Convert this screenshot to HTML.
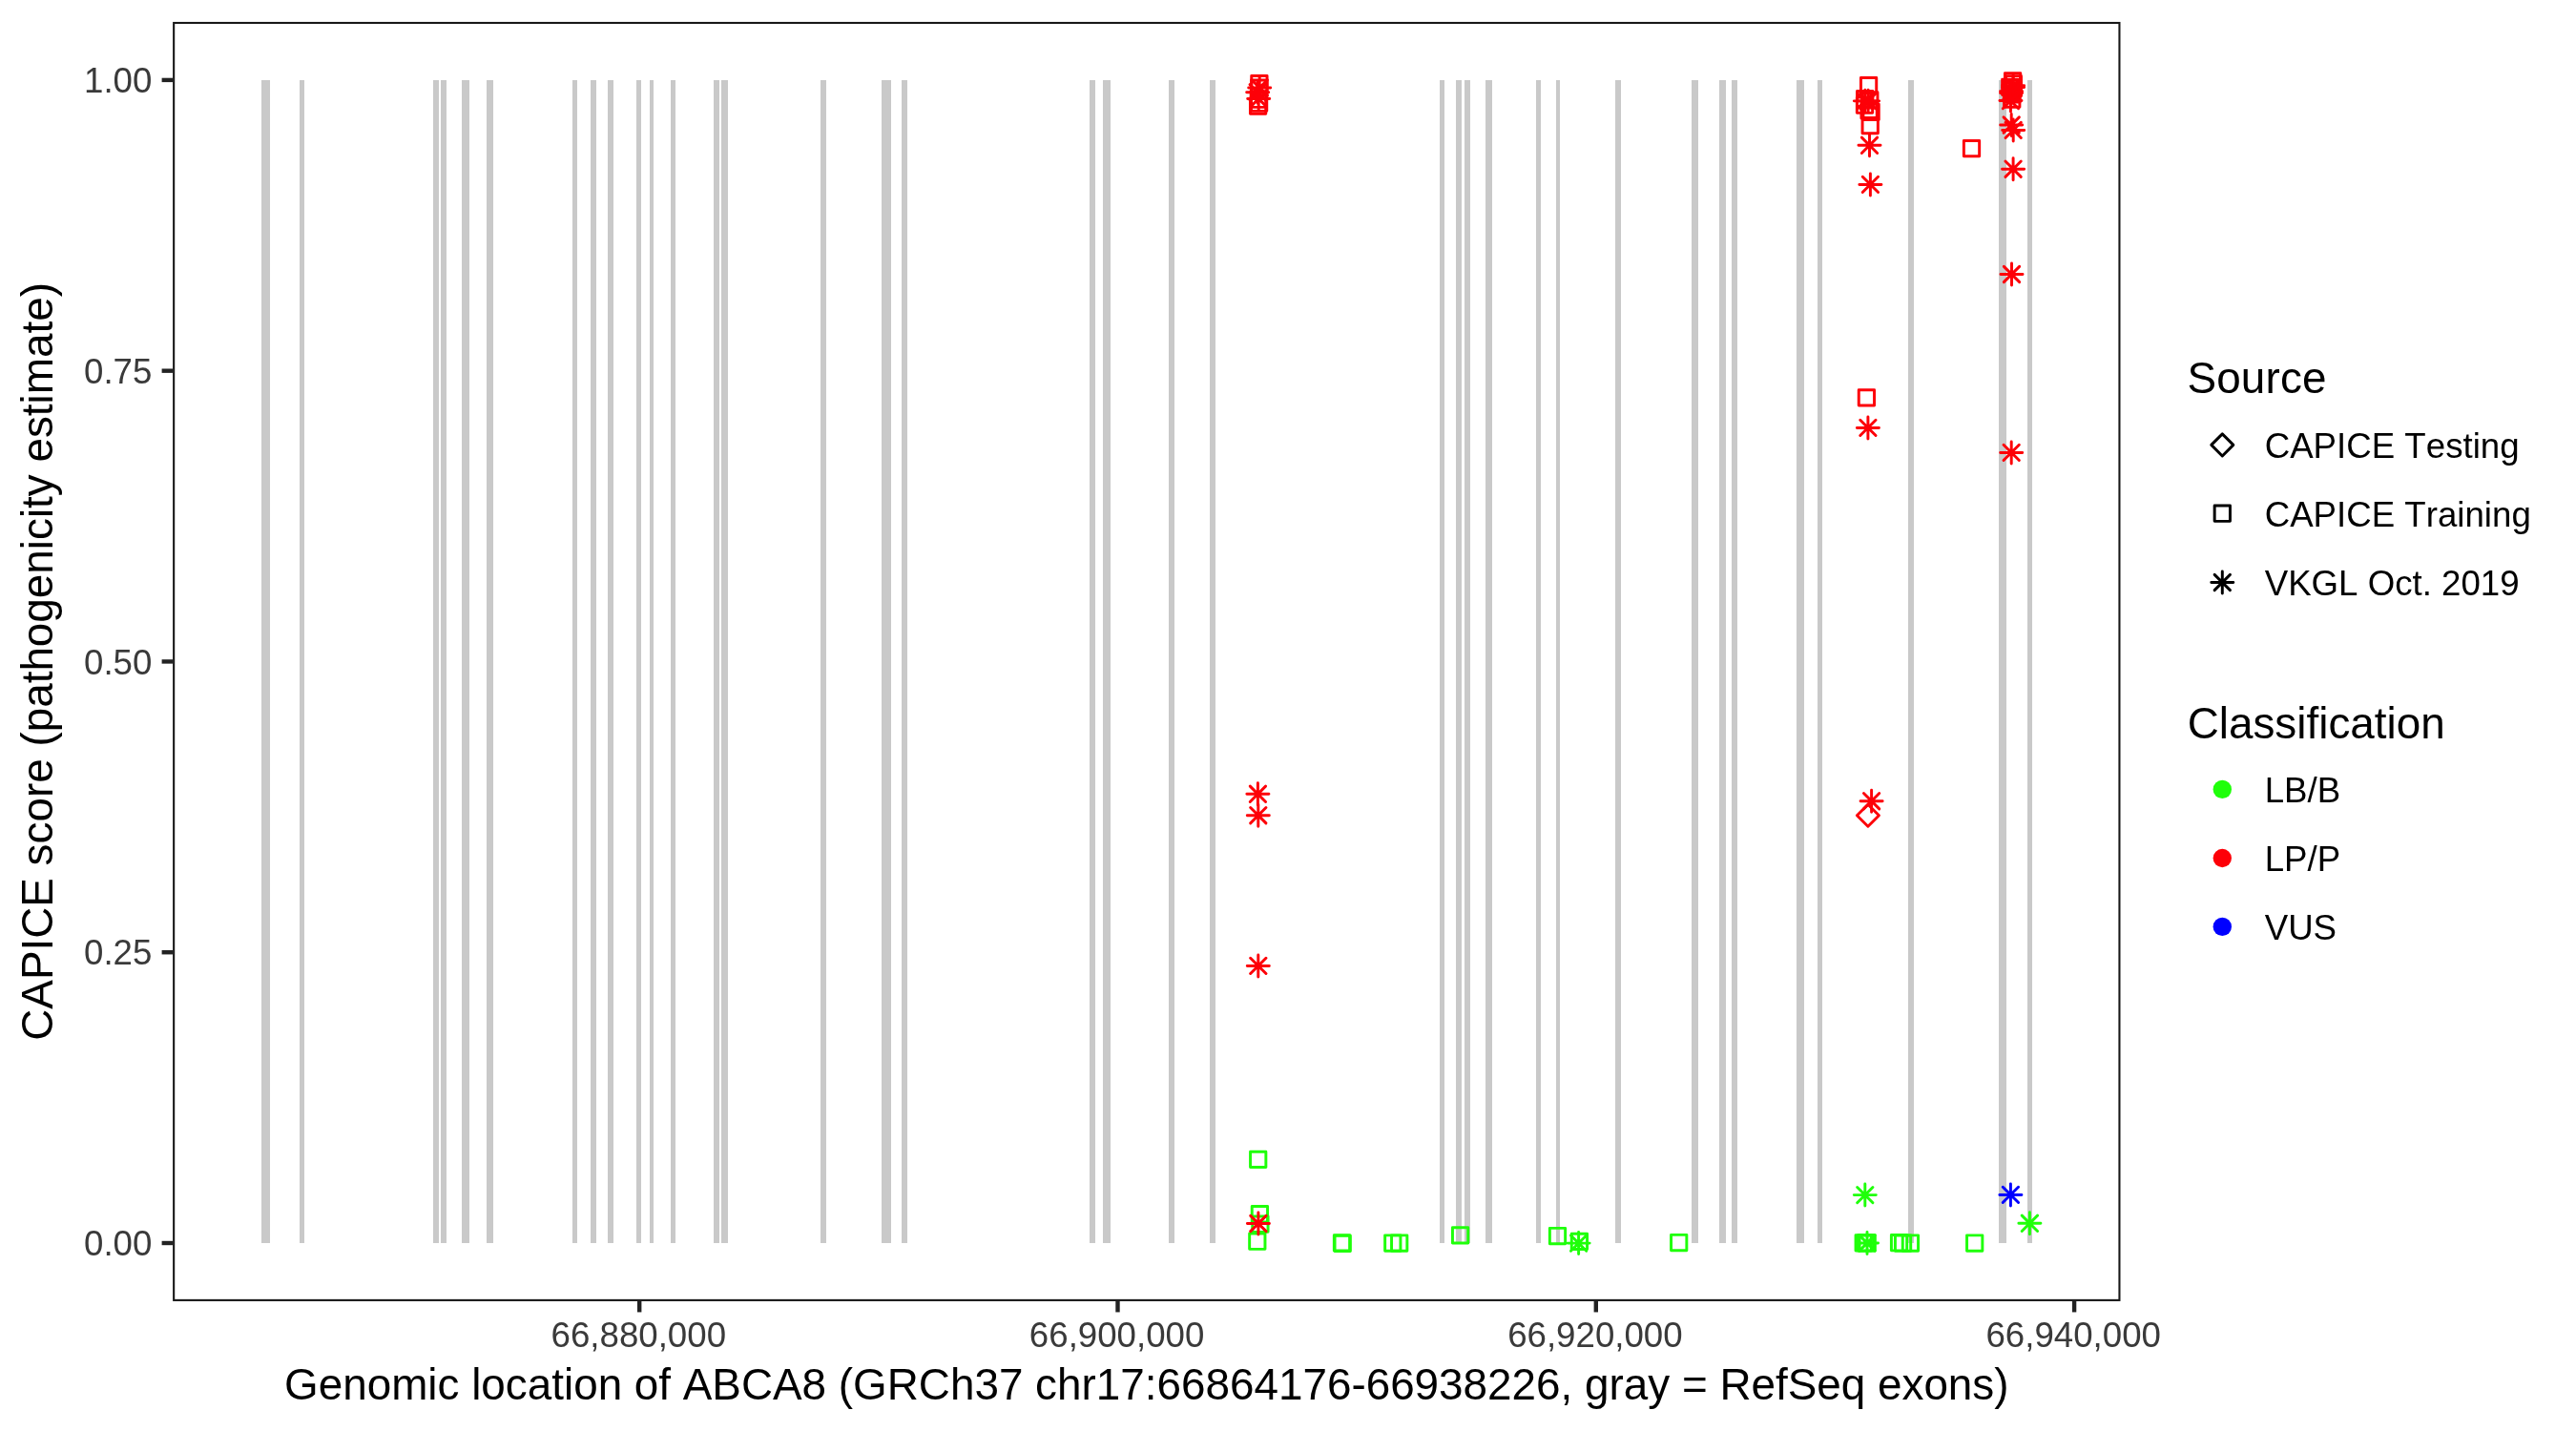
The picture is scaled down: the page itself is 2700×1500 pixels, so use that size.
<!DOCTYPE html>
<html><head><meta charset="utf-8"><title>CAPICE ABCA8</title>
<style>html,body{margin:0;padding:0;background:#fff;}svg{display:block;will-change:transform;}text{font-family:"Liberation Sans",sans-serif;font-kerning:none;font-variant-ligatures:none;}</style></head><body>
<svg width="2700" height="1500" viewBox="0 0 2700 1500">
<rect width="2700" height="1500" fill="#fff"/>
<g fill="#C9C9C9" shape-rendering="crispEdges">
<rect x="274" y="84" width="9" height="1219"/>
<rect x="314" y="84" width="5" height="1219"/>
<rect x="454" y="84" width="6" height="1219"/>
<rect x="462" y="84" width="6" height="1219"/>
<rect x="484" y="84" width="8" height="1219"/>
<rect x="510" y="84" width="7" height="1219"/>
<rect x="600" y="84" width="5" height="1219"/>
<rect x="619" y="84" width="6" height="1219"/>
<rect x="637" y="84" width="6" height="1219"/>
<rect x="667" y="84" width="5" height="1219"/>
<rect x="681" y="84" width="4" height="1219"/>
<rect x="703" y="84" width="5" height="1219"/>
<rect x="748" y="84" width="6" height="1219"/>
<rect x="756" y="84" width="7" height="1219"/>
<rect x="860" y="84" width="6" height="1219"/>
<rect x="924" y="84" width="10" height="1219"/>
<rect x="945" y="84" width="6" height="1219"/>
<rect x="1142" y="84" width="6" height="1219"/>
<rect x="1156" y="84" width="8" height="1219"/>
<rect x="1225" y="84" width="6" height="1219"/>
<rect x="1268" y="84" width="6" height="1219"/>
<rect x="1509" y="84" width="5" height="1219"/>
<rect x="1526" y="84" width="6" height="1219"/>
<rect x="1535" y="84" width="6" height="1219"/>
<rect x="1557" y="84" width="7" height="1219"/>
<rect x="1610" y="84" width="5" height="1219"/>
<rect x="1631" y="84" width="4" height="1219"/>
<rect x="1693" y="84" width="6" height="1219"/>
<rect x="1773" y="84" width="7" height="1219"/>
<rect x="1802" y="84" width="7" height="1219"/>
<rect x="1815" y="84" width="6" height="1219"/>
<rect x="1883" y="84" width="8" height="1219"/>
<rect x="1905" y="84" width="5" height="1219"/>
<rect x="2000" y="84" width="6" height="1219"/>
<rect x="2095" y="84" width="8" height="1219"/>
<rect x="2125" y="84" width="5" height="1219"/>
</g>
<g>
<rect x="1311.75" y="79.55" width="16.30" height="16.30" stroke="#FD0008" stroke-width="2.95" fill="none" stroke-linecap="round" stroke-linejoin="round"/>
<rect x="1311.75" y="84.05" width="16.30" height="16.30" stroke="#FD0008" stroke-width="2.95" fill="none" stroke-linecap="round" stroke-linejoin="round"/>
<rect x="1311.15" y="96.05" width="16.30" height="16.30" stroke="#FD0008" stroke-width="2.95" fill="none" stroke-linecap="round" stroke-linejoin="round"/>
<rect x="1311.45" y="100.05" width="16.30" height="16.30" stroke="#FD0008" stroke-width="2.95" fill="none" stroke-linecap="round" stroke-linejoin="round"/>
<rect x="1310.45" y="102.95" width="16.30" height="16.30" stroke="#FD0008" stroke-width="2.95" fill="none" stroke-linecap="round" stroke-linejoin="round"/>
<path d="M1308.68 92.00H1331.72M1320.20 80.48V103.52M1312.05 83.85L1328.35 100.15M1312.05 100.15L1328.35 83.85" stroke="#FD0008" stroke-width="2.95" fill="none" stroke-linecap="round" stroke-linejoin="round"/>
<path d="M1306.68 96.80H1329.72M1318.20 85.28V108.32M1310.05 88.65L1326.35 104.95M1310.05 104.95L1326.35 88.65" stroke="#FD0008" stroke-width="2.95" fill="none" stroke-linecap="round" stroke-linejoin="round"/>
<path d="M1307.68 103.50H1330.72M1319.20 91.98V115.02M1311.05 95.35L1327.35 111.65M1311.05 111.65L1327.35 95.35" stroke="#FD0008" stroke-width="2.95" fill="none" stroke-linecap="round" stroke-linejoin="round"/>
<path d="M1306.88 832.30H1329.92M1318.40 820.78V843.82M1310.25 824.15L1326.55 840.45M1310.25 840.45L1326.55 824.15" stroke="#FD0008" stroke-width="2.95" fill="none" stroke-linecap="round" stroke-linejoin="round"/>
<path d="M1307.28 854.70H1330.32M1318.80 843.18V866.22M1310.65 846.55L1326.95 862.85M1310.65 862.85L1326.95 846.55" stroke="#FD0008" stroke-width="2.95" fill="none" stroke-linecap="round" stroke-linejoin="round"/>
<path d="M1307.28 1012.40H1330.32M1318.80 1000.88V1023.92M1310.65 1004.25L1326.95 1020.55M1310.65 1020.55L1326.95 1004.25" stroke="#FD0008" stroke-width="2.95" fill="none" stroke-linecap="round" stroke-linejoin="round"/>
<rect x="1310.55" y="1207.15" width="16.30" height="16.30" stroke="#1FFF0A" stroke-width="2.95" fill="none" stroke-linecap="round" stroke-linejoin="round"/>
<rect x="1312.25" y="1264.55" width="16.30" height="16.30" stroke="#1FFF0A" stroke-width="2.95" fill="none" stroke-linecap="round" stroke-linejoin="round"/>
<rect x="1312.75" y="1275.05" width="16.30" height="16.30" stroke="#1FFF0A" stroke-width="2.95" fill="none" stroke-linecap="round" stroke-linejoin="round"/>
<rect x="1309.65" y="1293.05" width="16.30" height="16.30" stroke="#1FFF0A" stroke-width="2.95" fill="none" stroke-linecap="round" stroke-linejoin="round"/>
<path d="M1307.38 1282.50H1330.42M1318.90 1270.98V1294.02M1310.75 1274.35L1327.05 1290.65M1310.75 1290.65L1327.05 1274.35" stroke="#FD0008" stroke-width="2.95" fill="none" stroke-linecap="round" stroke-linejoin="round"/>
<rect x="1398.35" y="1294.65" width="16.30" height="16.30" stroke="#1FFF0A" stroke-width="2.95" fill="none" stroke-linecap="round" stroke-linejoin="round"/>
<rect x="1399.05" y="1295.15" width="16.30" height="16.30" stroke="#1FFF0A" stroke-width="2.95" fill="none" stroke-linecap="round" stroke-linejoin="round"/>
<rect x="1451.65" y="1294.85" width="16.30" height="16.30" stroke="#1FFF0A" stroke-width="2.95" fill="none" stroke-linecap="round" stroke-linejoin="round"/>
<rect x="1458.55" y="1294.85" width="16.30" height="16.30" stroke="#1FFF0A" stroke-width="2.95" fill="none" stroke-linecap="round" stroke-linejoin="round"/>
<rect x="1522.45" y="1286.65" width="16.30" height="16.30" stroke="#1FFF0A" stroke-width="2.95" fill="none" stroke-linecap="round" stroke-linejoin="round"/>
<rect x="1624.35" y="1287.35" width="16.30" height="16.30" stroke="#1FFF0A" stroke-width="2.95" fill="none" stroke-linecap="round" stroke-linejoin="round"/>
<rect x="1647.25" y="1293.25" width="16.30" height="16.30" stroke="#1FFF0A" stroke-width="2.95" fill="none" stroke-linecap="round" stroke-linejoin="round"/>
<path d="M1643.08 1303.10H1666.12M1654.60 1291.58V1314.62M1646.45 1294.95L1662.75 1311.25M1646.45 1311.25L1662.75 1294.95" stroke="#1FFF0A" stroke-width="2.95" fill="none" stroke-linecap="round" stroke-linejoin="round"/>
<rect x="1751.55" y="1294.35" width="16.30" height="16.30" stroke="#1FFF0A" stroke-width="2.95" fill="none" stroke-linecap="round" stroke-linejoin="round"/>
<path d="M1943.28 1252.60H1966.32M1954.80 1241.08V1264.12M1946.65 1244.45L1962.95 1260.75M1946.65 1260.75L1962.95 1244.45" stroke="#1FFF0A" stroke-width="2.95" fill="none" stroke-linecap="round" stroke-linejoin="round"/>
<rect x="1945.05" y="1294.80" width="16.30" height="16.30" stroke="#1FFF0A" stroke-width="2.95" fill="none" stroke-linecap="round" stroke-linejoin="round"/>
<rect x="1947.45" y="1294.80" width="16.30" height="16.30" stroke="#1FFF0A" stroke-width="2.95" fill="none" stroke-linecap="round" stroke-linejoin="round"/>
<rect x="1949.05" y="1294.80" width="16.30" height="16.30" stroke="#1FFF0A" stroke-width="2.95" fill="none" stroke-linecap="round" stroke-linejoin="round"/>
<path d="M1945.48 1303.00H1968.52M1957.00 1291.48V1314.52M1948.85 1294.85L1965.15 1311.15M1948.85 1311.15L1965.15 1294.85" stroke="#1FFF0A" stroke-width="2.95" fill="none" stroke-linecap="round" stroke-linejoin="round"/>
<rect x="1982.40" y="1294.55" width="16.30" height="16.30" stroke="#1FFF0A" stroke-width="2.95" fill="none" stroke-linecap="round" stroke-linejoin="round"/>
<rect x="1986.41" y="1295.05" width="16.30" height="16.30" stroke="#1FFF0A" stroke-width="2.95" fill="none" stroke-linecap="round" stroke-linejoin="round"/>
<rect x="1994.25" y="1294.85" width="16.30" height="16.30" stroke="#1FFF0A" stroke-width="2.95" fill="none" stroke-linecap="round" stroke-linejoin="round"/>
<rect x="2061.55" y="1294.85" width="16.30" height="16.30" stroke="#1FFF0A" stroke-width="2.95" fill="none" stroke-linecap="round" stroke-linejoin="round"/>
<path d="M2095.88 1252.40H2118.92M2107.40 1240.88V1263.92M2099.25 1244.25L2115.55 1260.55M2099.25 1260.55L2115.55 1244.25" stroke="#0000FF" stroke-width="2.95" fill="none" stroke-linecap="round" stroke-linejoin="round"/>
<path d="M2115.88 1282.30H2138.92M2127.40 1270.78V1293.82M2119.25 1274.15L2135.55 1290.45M2119.25 1290.45L2135.55 1274.15" stroke="#1FFF0A" stroke-width="2.95" fill="none" stroke-linecap="round" stroke-linejoin="round"/>
<rect x="1950.45" y="81.40" width="16.30" height="16.30" stroke="#FD0008" stroke-width="2.95" fill="none" stroke-linecap="round" stroke-linejoin="round"/>
<rect x="1946.55" y="95.45" width="16.30" height="16.30" stroke="#FD0008" stroke-width="2.95" fill="none" stroke-linecap="round" stroke-linejoin="round"/>
<rect x="1946.35" y="102.05" width="16.30" height="16.30" stroke="#FD0008" stroke-width="2.95" fill="none" stroke-linecap="round" stroke-linejoin="round"/>
<rect x="1951.65" y="96.65" width="16.30" height="16.30" stroke="#FD0008" stroke-width="2.95" fill="none" stroke-linecap="round" stroke-linejoin="round"/>
<rect x="1950.95" y="107.75" width="16.30" height="16.30" stroke="#FD0008" stroke-width="2.95" fill="none" stroke-linecap="round" stroke-linejoin="round"/>
<rect x="1952.95" y="109.25" width="16.30" height="16.30" stroke="#FD0008" stroke-width="2.95" fill="none" stroke-linecap="round" stroke-linejoin="round"/>
<path d="M1943.33 105.85H1966.37M1954.85 94.33V117.37M1946.70 97.70L1963.00 114.00M1946.70 114.00L1963.00 97.70" stroke="#FD0008" stroke-width="2.95" fill="none" stroke-linecap="round" stroke-linejoin="round"/>
<path d="M1946.58 105.85H1969.62M1958.10 94.33V117.37M1949.95 97.70L1966.25 114.00M1949.95 114.00L1966.25 97.70" stroke="#FD0008" stroke-width="2.95" fill="none" stroke-linecap="round" stroke-linejoin="round"/>
<rect x="1952.05" y="123.45" width="16.30" height="16.30" stroke="#FD0008" stroke-width="2.95" fill="none" stroke-linecap="round" stroke-linejoin="round"/>
<path d="M1947.98 152.30H1971.02M1959.50 140.78V163.82M1951.35 144.15L1967.65 160.45M1951.35 160.45L1967.65 144.15" stroke="#FD0008" stroke-width="2.95" fill="none" stroke-linecap="round" stroke-linejoin="round"/>
<path d="M1948.88 193.40H1971.92M1960.40 181.88V204.92M1952.25 185.25L1968.55 201.55M1952.25 201.55L1968.55 185.25" stroke="#FD0008" stroke-width="2.95" fill="none" stroke-linecap="round" stroke-linejoin="round"/>
<rect x="1948.25" y="408.65" width="16.30" height="16.30" stroke="#FD0008" stroke-width="2.95" fill="none" stroke-linecap="round" stroke-linejoin="round"/>
<path d="M1946.38 448.40H1969.42M1957.90 436.88V459.92M1949.75 440.25L1966.05 456.55M1949.75 456.55L1966.05 440.25" stroke="#FD0008" stroke-width="2.95" fill="none" stroke-linecap="round" stroke-linejoin="round"/>
<path d="M1950.08 839.70H1973.12M1961.60 828.18V851.22M1953.45 831.55L1969.75 847.85M1953.45 847.85L1969.75 831.55" stroke="#FD0008" stroke-width="2.95" fill="none" stroke-linecap="round" stroke-linejoin="round"/>
<path d="M1946.38 854.70L1957.90 866.22L1969.42 854.70L1957.90 843.18Z" stroke="#FD0008" stroke-width="2.95" fill="none" stroke-linecap="round" stroke-linejoin="round"/>
<rect x="2058.35" y="147.45" width="16.30" height="16.30" stroke="#FD0008" stroke-width="2.95" fill="none" stroke-linecap="round" stroke-linejoin="round"/>
<rect x="2101.45" y="76.70" width="16.30" height="16.30" stroke="#FD0008" stroke-width="2.95" fill="none" stroke-linecap="round" stroke-linejoin="round"/>
<rect x="2102.15" y="79.60" width="16.30" height="16.30" stroke="#FD0008" stroke-width="2.95" fill="none" stroke-linecap="round" stroke-linejoin="round"/>
<rect x="2098.65" y="83.30" width="16.30" height="16.30" stroke="#FD0008" stroke-width="2.95" fill="none" stroke-linecap="round" stroke-linejoin="round"/>
<rect x="2102.15" y="84.35" width="16.30" height="16.30" stroke="#FD0008" stroke-width="2.95" fill="none" stroke-linecap="round" stroke-linejoin="round"/>
<rect x="2100.60" y="95.95" width="16.30" height="16.30" stroke="#FD0008" stroke-width="2.95" fill="none" stroke-linecap="round" stroke-linejoin="round"/>
<rect x="2100.35" y="87.35" width="16.30" height="16.30" stroke="#FD0008" stroke-width="2.95" fill="none" stroke-linecap="round" stroke-linejoin="round"/>
<rect x="2100.85" y="90.65" width="16.30" height="16.30" stroke="#FD0008" stroke-width="2.95" fill="none" stroke-linecap="round" stroke-linejoin="round"/>
<path d="M2098.58 89.70H2121.62M2110.10 78.18V101.22M2101.95 81.55L2118.25 97.85M2101.95 97.85L2118.25 81.55" stroke="#FD0008" stroke-width="2.95" fill="none" stroke-linecap="round" stroke-linejoin="round"/>
<path d="M2098.58 91.40H2121.62M2110.10 79.88V102.92M2101.95 83.25L2118.25 99.55M2101.95 99.55L2118.25 83.25" stroke="#FD0008" stroke-width="2.95" fill="none" stroke-linecap="round" stroke-linejoin="round"/>
<path d="M2096.58 95.60H2119.62M2108.10 84.08V107.12M2099.95 87.45L2116.25 103.75M2099.95 103.75L2116.25 87.45" stroke="#FD0008" stroke-width="2.95" fill="none" stroke-linecap="round" stroke-linejoin="round"/>
<path d="M2096.58 97.50H2119.62M2108.10 85.98V109.02M2099.95 89.35L2116.25 105.65M2099.95 105.65L2116.25 89.35" stroke="#FD0008" stroke-width="2.95" fill="none" stroke-linecap="round" stroke-linejoin="round"/>
<path d="M2095.93 105.55H2118.97M2107.45 94.03V117.07M2099.30 97.40L2115.60 113.70M2099.30 113.70L2115.60 97.40" stroke="#FD0008" stroke-width="2.95" fill="none" stroke-linecap="round" stroke-linejoin="round"/>
<path d="M2096.68 131.00H2119.72M2108.20 119.48V142.52M2100.05 122.85L2116.35 139.15M2100.05 139.15L2116.35 122.85" stroke="#FD0008" stroke-width="2.95" fill="none" stroke-linecap="round" stroke-linejoin="round"/>
<path d="M2098.68 136.40H2121.72M2110.20 124.88V147.92M2102.05 128.25L2118.35 144.55M2102.05 144.55L2118.35 128.25" stroke="#FD0008" stroke-width="2.95" fill="none" stroke-linecap="round" stroke-linejoin="round"/>
<path d="M2098.58 177.20H2121.62M2110.10 165.68V188.72M2101.95 169.05L2118.25 185.35M2101.95 185.35L2118.25 169.05" stroke="#FD0008" stroke-width="2.95" fill="none" stroke-linecap="round" stroke-linejoin="round"/>
<path d="M2096.98 287.50H2120.02M2108.50 275.98V299.02M2100.35 279.35L2116.65 295.65M2100.35 295.65L2116.65 279.35" stroke="#FD0008" stroke-width="2.95" fill="none" stroke-linecap="round" stroke-linejoin="round"/>
<path d="M2096.68 474.40H2119.72M2108.20 462.88V485.92M2100.05 466.25L2116.35 482.55M2100.05 482.55L2116.35 466.25" stroke="#FD0008" stroke-width="2.95" fill="none" stroke-linecap="round" stroke-linejoin="round"/>
</g>
<rect x="182.15" y="24.00" width="2039.30" height="1338.90" fill="none" stroke="#181818" stroke-width="2.1"/>
<g stroke="#222222" stroke-width="4.4">
<line x1="169.6" x2="181.1" y1="1303.00" y2="1303.00"/>
<line x1="169.6" x2="181.1" y1="998.23" y2="998.23"/>
<line x1="169.6" x2="181.1" y1="693.45" y2="693.45"/>
<line x1="169.6" x2="181.1" y1="388.68" y2="388.68"/>
<line x1="169.6" x2="181.1" y1="83.90" y2="83.90"/>
<line x1="670.20" x2="670.20" y1="1363.95" y2="1375.45"/>
<line x1="1171.50" x2="1171.50" y1="1363.95" y2="1375.45"/>
<line x1="1672.80" x2="1672.80" y1="1363.95" y2="1375.45"/>
<line x1="2174.10" x2="2174.10" y1="1363.95" y2="1375.45"/>
</g>
<g fill="#3A3A3A" font-size="36.67">
<text x="159.4" y="1316.20" text-anchor="end">0.00</text>
<text x="159.4" y="1011.43" text-anchor="end">0.25</text>
<text x="159.4" y="706.65" text-anchor="end">0.50</text>
<text x="159.4" y="401.88" text-anchor="end">0.75</text>
<text x="159.4" y="97.10" text-anchor="end">1.00</text>
<text x="669.30" y="1412.3" text-anchor="middle">66,880,000</text>
<text x="1170.60" y="1412.3" text-anchor="middle">66,900,000</text>
<text x="1671.90" y="1412.3" text-anchor="middle">66,920,000</text>
<text x="2173.20" y="1412.3" text-anchor="middle">66,940,000</text>
</g>
<g fill="#000" font-size="45.83">
<text x="1201.8" y="1466.8" text-anchor="middle">Genomic location of ABCA8 (GRCh37 chr17:66864176-66938226, gray = RefSeq exons)</text>
<text transform="translate(55.4,693.4) rotate(-90)" text-anchor="middle">CAPICE score (pathogenicity estimate)</text>
<text x="2292.4" y="412.4" letter-spacing="0.2">Source</text>
<text x="2292.7" y="773.9">Classification</text>
</g>
<path d="M2317.78 466.40L2329.30 477.92L2340.82 466.40L2329.30 454.88Z" stroke="#000" stroke-width="2.95" fill="none" stroke-linecap="round" stroke-linejoin="round"/>
<rect x="2321.15" y="530.05" width="16.30" height="16.30" stroke="#000" stroke-width="2.95" fill="none" stroke-linecap="round" stroke-linejoin="round"/>
<path d="M2317.78 610.50H2340.82M2329.30 598.98V622.02M2321.15 602.35L2337.45 618.65M2321.15 618.65L2337.45 602.35" stroke="#000" stroke-width="2.95" fill="none" stroke-linecap="round" stroke-linejoin="round"/>
<circle cx="2329.3" cy="827.4" r="9.7" fill="#1FFF0A"/>
<circle cx="2329.3" cy="899.5" r="9.7" fill="#FD0008"/>
<circle cx="2329.3" cy="971.4" r="9.7" fill="#0000FF"/>
<g fill="#000" font-size="36.67">
<text x="2373.7" y="480.2">CAPICE Testing</text>
<text x="2373.7" y="552.2">CAPICE Training</text>
<text x="2373.7" y="624.1">VKGL Oct. 2019</text>
<text x="2373.7" y="841.0">LB/B</text>
<text x="2373.7" y="912.9">LP/P</text>
<text x="2373.7" y="984.6">VUS</text>
</g>
</svg></body></html>
